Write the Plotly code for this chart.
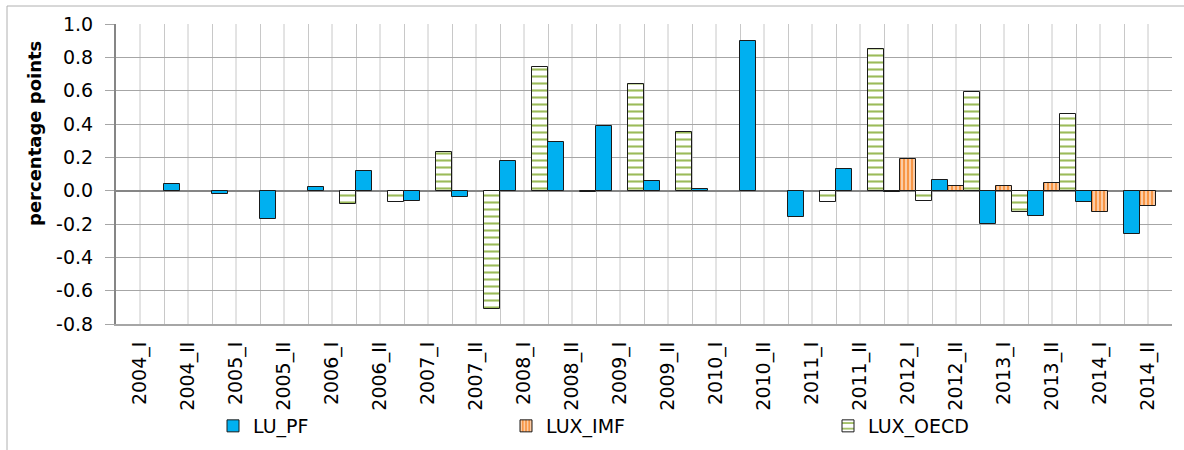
import plotly.graph_objects as go

categories = ["2004_I", "2004_II", "2005_I", "2005_II", "2006_I", "2006_II",
              "2007_I", "2007_II", "2008_I", "2008_II", "2009_I", "2009_II",
              "2010_I", "2010_II", "2011_I", "2011_II", "2012_I", "2012_II",
              "2013_I", "2013_II", "2014_I", "2014_II"]

lu_pf = [None, 0.04, -0.02, -0.17, 0.02, 0.12, -0.06, -0.035, 0.18, 0.29, 0.39,
         0.06, 0.013, 0.90, -0.155, 0.13, -0.005, 0.065, -0.20, -0.15, -0.07, -0.26]

lux_imf = [None, None, None, None, None, None, None, None, None, None, None,
           None, None, None, None, None, 0.19, 0.03, 0.03, 0.045, -0.125, -0.09]

lux_oecd = [None, None, None, None, -0.08, -0.07, 0.23, -0.71, 0.74, -0.005, 0.64,
            0.35, None, None, -0.07, 0.85, -0.06, 0.59, -0.125, 0.46, None, None]

y_tick_vals = [-0.8, -0.6, -0.4, -0.2, 0.0, 0.2, 0.4, 0.6, 0.8, 1.0]
y_tick_text = ["-0.8", "-0.6", "-0.4", "-0.2", "0.0", "0.2", "0.4", "0.6", "0.8", "1.0"]

FONT = "DejaVu Sans"
W, H = 1184, 450
L, R, T, B = 116, 12, 24, 126
PW, PH = W - L - R, H - T - B


def px_x(p):
    return (p - L) / PW


def px_y(p):
    return (H - B - p) / PH


fig = go.Figure()
fig.add_trace(go.Bar(
    x=categories, y=lu_pf, name="LU_PF", legend="legend",
    marker=dict(color="#00B0F0", line=dict(color="#1a1a1a", width=1)),
))
fig.add_trace(go.Bar(
    x=categories, y=lux_imf, name="LUX_IMF", legend="legend2",
    marker=dict(color="#F79646", line=dict(color="#1a1a1a", width=1),
                pattern=dict(shape="|", fillmode="replace", bgcolor="#F79646",
                             fgcolor="#FDE4CF", size=4, solidity=0.35)),
))
fig.add_trace(go.Bar(
    x=categories, y=lux_oecd, name="LUX_OECD", legend="legend3",
    marker=dict(color="#9BBB59", line=dict(color="#1a1a1a", width=1),
                pattern=dict(shape="-", fillmode="replace", bgcolor="white",
                             fgcolor="#9BBB59", size=7, solidity=0.3)),
))

shapes = []
# vertical minor gridlines at category centres
for i in range(len(categories)):
    shapes.append(dict(type="line", xref="x", yref="paper", x0=i, x1=i, y0=0, y1=1,
                       line=dict(color="#C8C8C8", width=1), layer="below"))
# outer chart border
shapes.append(dict(type="rect", xref="paper", yref="paper",
                   x0=px_x(7), x1=px_x(1200), y0=px_y(6), y1=px_y(470),
                   line=dict(color="#B0B0B0", width=1), fillcolor="rgba(0,0,0,0)",
                   layer="below"))

legend_common = dict(orientation="v", yanchor="middle", xanchor="left",
                     xref="container", yref="container",
                     font=dict(family=FONT, size=19, color="#000"),
                     bgcolor="rgba(0,0,0,0)", borderwidth=0)

fig.update_layout(
    width=W, height=H,
    margin=dict(l=L, r=R, t=T, b=B, pad=0, autoexpand=False),
    paper_bgcolor="white", plot_bgcolor="white",
    barmode="group", bargap=0, bargroupgap=0,
    font=dict(family=FONT, size=19, color="#000"),
    showlegend=True,
    shapes=shapes,
    legend=dict(x=213 / W, y=1 - 426 / H, **legend_common),
    legend2=dict(x=506 / W, y=1 - 426 / H, **legend_common),
    legend3=dict(x=828 / W, y=1 - 426 / H, **legend_common),
    annotations=[dict(text="<b>percentage points</b>", textangle=-90,
                      xref="paper", yref="paper", x=px_x(34), y=px_y(134),
                      xanchor="center", yanchor="middle", showarrow=False,
                      font=dict(family=FONT, size=18, color="#000"))],
    xaxis=dict(type="category", tickson="boundaries", showgrid=True,
               gridcolor="#C8C8C8", gridwidth=1, tickangle=-90,
               ticks="", showline=True, linecolor="#A6A6A6", linewidth=2,
               tickfont=dict(family=FONT, size=19), ticklabelstandoff=8,
               range=[-0.5, len(categories) - 0.5], automargin=False),
    yaxis=dict(range=[-0.8, 1.0], tickvals=y_tick_vals, ticktext=y_tick_text,
               showgrid=True, gridcolor="#A6A6A6", gridwidth=1,
               zeroline=True, zerolinecolor="#868686", zerolinewidth=2,
               showline=True, linecolor="#868686", linewidth=2,
               ticks="outside", ticklen=9, tickcolor="#A6A6A6",
               tickfont=dict(family=FONT, size=19), ticklabelstandoff=8,
               automargin=False),
)

fig.write_html("out.html", config={"displayModeBar": False},
               post_script="document.body.style.margin='0';document.body.style.overflow='hidden';")
